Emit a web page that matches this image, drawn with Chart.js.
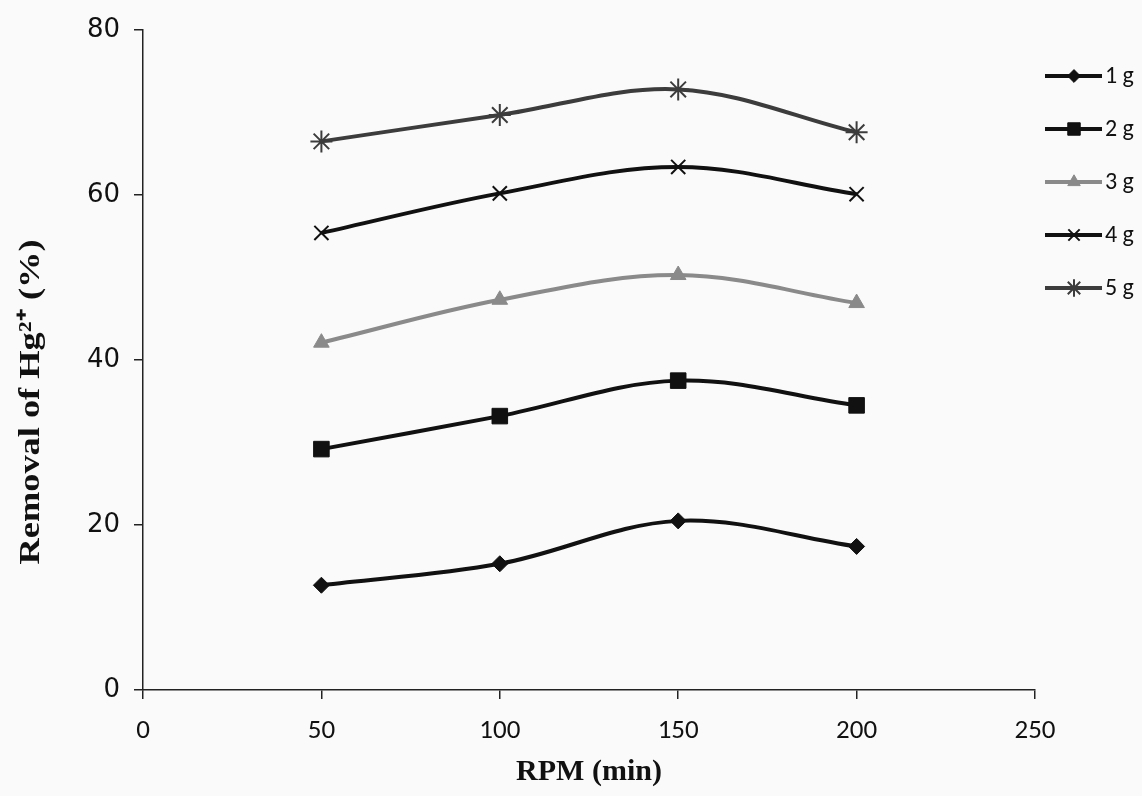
<!DOCTYPE html>
<html>
<head>
<meta charset="utf-8">
<script src="https://cdn.jsdelivr.net/npm/chart.js@4"></script>
<style>
    html, body { margin: 0; padding: 0; background: #fafafb; }
    #wrap { width: 1142px; height: 796px; }
</style>
</head>
<body>
<div id="wrap"><canvas id="rpmChart" width="1142" height="796"></canvas></div>
<script>
// values
const rpm = [50, 100, 150, 200];
const seriesNames = ["1 g", "2 g", "3 g", "4 g", "5 g"];
const removal1g = [12.7, 15.3, 20.5, 17.4];
const removal2g = [29.2, 33.2, 37.5, 34.5];
const removal3g = [42.1, 47.3, 50.3, 46.9];
const removal4g = [55.4, 60.2, 63.4, 60.1];
const removal5g = [66.5, 69.7, 72.8, 67.6];
const xTicks = [0, 50, 100, 150, 200, 250];
const yTicks = [0, 20, 40, 60, 80];
const yTitle = "Removal of Hg²⁺ (%)";
const xTitle = "RPM (min)";

const seriesValues = [removal1g, removal2g, removal3g, removal4g, removal5g];
const seriesColours = ["#111111", "#111111", "#8a8a8a", "#111111", "#3c3c3c"];
const seriesPoints = ["rectRot", "rect", "triangle", "crossRot", "star"];
const seriesRadius = [8, 11, 9, 10, 11];

const serif = "'Liberation Serif', 'Times New Roman', serif";

function makeDataset(i) {
    const open = seriesPoints[i] === "crossRot" || seriesPoints[i] === "star";
    return {
        label: seriesNames[i],
        data: rpm.map((x, j) => ({ x: x, y: seriesValues[i][j] })),
        borderColor: seriesColours[i],
        backgroundColor: seriesColours[i],
        borderWidth: 4,
        tension: 0.35,
        pointStyle: seriesPoints[i],
        pointRadius: seriesRadius[i],
        pointBorderWidth: open ? 2 : 1,
        pointBackgroundColor: seriesColours[i],
        pointBorderColor: seriesColours[i],
        fill: false
    };
}

// legend on the right: short line with the marker in the middle
const sideLegend = {
    id: "sideLegend",
    afterDraw(chart) {
        const ctx = chart.ctx;
        chart.data.datasets.forEach((ds, i) => {
            const y = 76 + i * 53;
            ctx.save();
            ctx.strokeStyle = ds.borderColor;
            ctx.lineWidth = 4;
            ctx.beginPath();
            ctx.moveTo(1045, y);
            ctx.lineTo(1102, y);
            ctx.stroke();
            ctx.fillStyle = ds.backgroundColor;
            ctx.strokeStyle = ds.pointBorderColor;
            ctx.lineWidth = ds.pointBorderWidth;
            Chart.helpers.drawPoint(ctx, {
                pointStyle: ds.pointStyle,
                radius: ds.pointRadius * 0.8,
                rotation: 0,
                borderWidth: ds.pointBorderWidth
            }, 1074, y);
            ctx.fillStyle = "#111";
            ctx.font = "24px Carlito, Lato, 'Open Sans', sans-serif";
            ctx.textAlign = "left";
            ctx.textBaseline = "middle";
            ctx.fillText(ds.label, 1105, y + 1);
            ctx.restore();
        });
    }
};

// rotated y title, stretched a little along its baseline like the scan
const yTitlePlugin = {
    id: "yTitlePlugin",
    afterDraw(chart) {
        const ctx = chart.ctx;
        ctx.save();
        ctx.font = "bold 30px " + serif;
        const w = ctx.measureText(yTitle).width;
        ctx.translate(31, 402);
        ctx.rotate(-Math.PI / 2);
        ctx.scale(325 / w, 1);
        ctx.fillStyle = "#111";
        ctx.textAlign = "center";
        ctx.textBaseline = "middle";
        ctx.fillText(yTitle, 0, 0);
        ctx.restore();
    }
};

const bg = {
    id: "bg",
    beforeDraw(chart) {
        const ctx = chart.ctx;
        ctx.save();
        ctx.fillStyle = "#fafafb";
        ctx.fillRect(0, 0, chart.width, chart.height);
        ctx.restore();
    }
};

new Chart(document.getElementById("rpmChart"), {
    type: "line",
    data: { datasets: seriesValues.map((v, i) => makeDataset(i)) },
    options: {
        responsive: false,
        animation: false,
        layout: { padding: { left: 14, right: 107, top: 30, bottom: 2 } },
        plugins: { legend: { display: false }, tooltip: { enabled: false } },
        scales: {
            x: {
                type: "linear",
                min: 0,
                max: 250,
                afterBuildTicks: (s) => { s.ticks = xTicks.map(v => ({ value: v })); },
                grid: { drawOnChartArea: false, tickLength: 9, color: "#222", lineWidth: 1.5 },
                border: { color: "#222", width: 1.5 },
                ticks: { color: "#111", font: { family: "Carlito, Lato, 'Open Sans', sans-serif", size: 27 }, padding: 16, maxRotation: 0 },
                title: { display: true, text: xTitle, color: "#111", font: { family: serif, size: 30, weight: "bold" }, padding: { top: 8 } },
                afterFit: (s) => { s.height = 796 - 690 - 2; }
            },
            y: {
                min: 0,
                max: 80,
                afterBuildTicks: (s) => { s.ticks = yTicks.map(v => ({ value: v })); },
                grid: { drawOnChartArea: false, tickLength: 9, color: "#222", lineWidth: 1.5 },
                border: { color: "#222", width: 1.5 },
                ticks: { color: "#111", font: { family: "'DejaVu Sans', sans-serif", size: 26 }, padding: 14 },
                afterFit: (s) => { s.width = 143 - 14; }
            }
        }
    },
    plugins: [bg, yTitlePlugin, sideLegend]
});
</script>
</body>
</html>
